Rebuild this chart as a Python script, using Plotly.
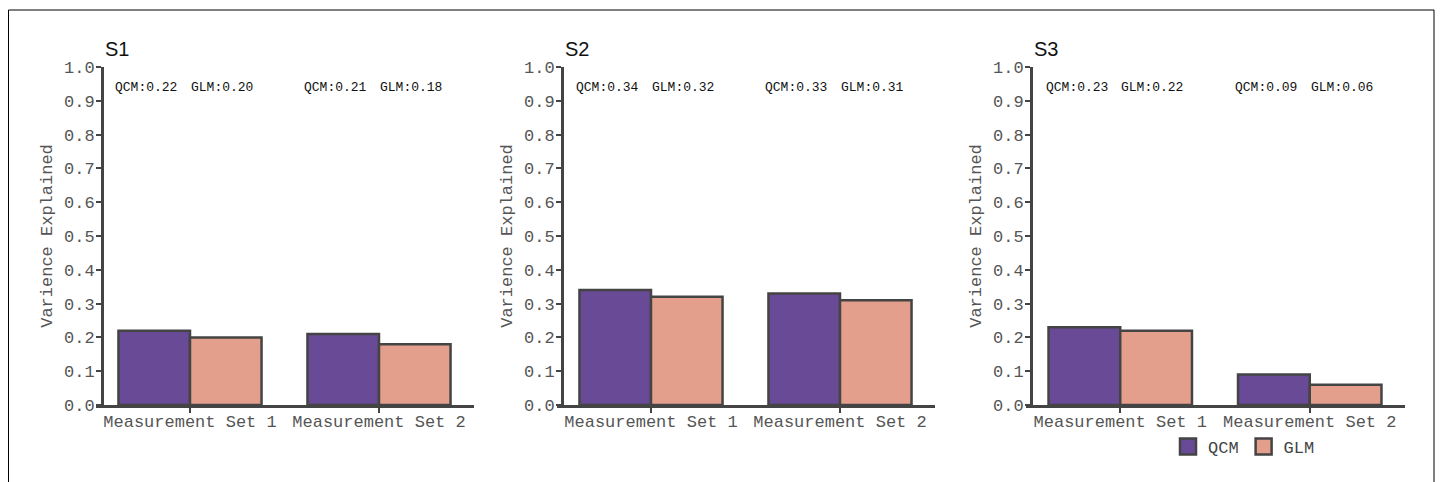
import plotly.graph_objects as go

W, H = 1444, 482
OFF = 8  # page body margin offset in the screenshot

categories = ["Measurement Set 1", "Measurement Set 2"]
panels = ["S1", "S2", "S3"]
qcm_values = [[0.22, 0.21], [0.34, 0.33], [0.23, 0.09]]
glm_values = [[0.20, 0.18], [0.32, 0.31], [0.22, 0.06]]
series_names = ["QCM", "GLM"]
y_ticks = [0.0, 0.1, 0.2, 0.3, 0.4, 0.5, 0.6, 0.7, 0.8, 0.9, 1.0]
y_title = "Varience Explained"

colors = {"QCM": "#684a96", "GLM": "#e39f8c"}
edge = "#444444"
mono = "Liberation Mono, Courier New, monospace"


def px_x(v):
    return (v - OFF) / W


def px_y(v):
    return 1 - (v - OFF) / H


# pixel layout per panel (screen px): x domain, y-axis position
x_domains_px = [(95.5, 473.5), (556.5, 934.5), (1025.5, 1404.5)]
yaxis_px = [102, 562, 1031]
y_dom = [px_y(405), px_y(67)]

fig = go.Figure()
for i, name in enumerate(panels):
    sfx = "" if i == 0 else str(i + 1)
    for s, vals in zip(series_names, [qcm_values[i], glm_values[i]]):
        fig.add_trace(go.Bar(
            x=categories, y=vals, name=s,
            xaxis="x" + sfx, yaxis="y" + sfx,
            marker=dict(color=colors[s], line=dict(color=edge, width=2.5)),
            showlegend=False, hoverinfo="skip",
        ))
    x0, x1 = x_domains_px[i]
    fig.layout["xaxis" + sfx] = dict(
        domain=[px_x(x0), px_x(x1)], anchor="y" + sfx, type="category",
        range=[-0.5, 1.5], showline=True, linecolor=edge, linewidth=2.5,
        ticks="outside", ticklen=5, tickwidth=2, tickcolor=edge,
        ticklabelstandoff=-6,
        tickfont=dict(family=mono, size=17, color="#555555"),
        showgrid=False, zeroline=False, fixedrange=True, automargin=False,
    )
    fig.layout["yaxis" + sfx] = dict(
        domain=y_dom, anchor="free", position=px_x(yaxis_px[i]),
        range=[0, 1], tickvals=y_ticks, ticktext=[f"{v:.1f}" for v in y_ticks],
        showline=True, linecolor=edge, linewidth=3,
        ticks="outside", ticklen=5, tickwidth=2, tickcolor=edge,
        ticklabelstandoff=-2,
        tickfont=dict(family=mono, size=17, color="#555555"),
        title=dict(text=y_title, font=dict(family=mono, size=17, color="#555555"), standoff=6),
        showgrid=False, zeroline=False, fixedrange=True, automargin=False,
    )
    # panel title
    fig.add_annotation(text=name, xref="paper", yref="paper",
                       x=px_x(yaxis_px[i] + 1), y=px_y(62), xanchor="left", yanchor="bottom",
                       showarrow=False, font=dict(family="Liberation Sans, Arial", size=20, color="#111111"))
    # value labels
    for j, cat in enumerate(categories):
        fig.add_annotation(text=f"QCM:{qcm_values[i][j]:.2f}", xref="x" + sfx, yref="y" + sfx,
                           x=j - 0.405, y=0.94, xanchor="left", yanchor="middle", showarrow=False,
                           font=dict(family=mono, size=13, color="#111111"))
        fig.add_annotation(text=f"GLM:{glm_values[i][j]:.2f}", xref="x" + sfx, yref="y" + sfx,
                           x=j - 0.005, y=0.94, xanchor="left", yanchor="middle", showarrow=False,
                           font=dict(family=mono, size=13, color="#111111"))

# legend entries (square swatches)
for s in series_names:
    fig.add_trace(go.Scatter(
        x=[None], y=[None], name=s, mode="markers", xaxis="x3", yaxis="y3",
        marker=dict(symbol="square", size=16, color=colors[s], line=dict(color=edge, width=2.5)),
        showlegend=True, hoverinfo="skip",
    ))

# outer frame
fig.add_shape(type="path", xref="paper", yref="paper",
              path=f"M {0.5/W} -0.2 L {0.5/W} {px_y(10)} L {px_x(1434)} {px_y(10)} L {px_x(1434)} -0.2",
              line=dict(color="#000000", width=1))

fig.update_layout(
    width=W, height=H, margin=dict(l=0, r=0, t=0, b=0, autoexpand=False),
    paper_bgcolor="white", plot_bgcolor="white",
    barmode="group", bargap=0.243, bargroupgap=0,
    legend=dict(orientation="h", x=px_x(1168), y=px_y(429), xanchor="left", yanchor="top",
                font=dict(family=mono, size=17, color="#444444"), itemwidth=30,
                tracegroupgap=0, bgcolor="rgba(0,0,0,0)"),
)

fig.write_html("out.html")
